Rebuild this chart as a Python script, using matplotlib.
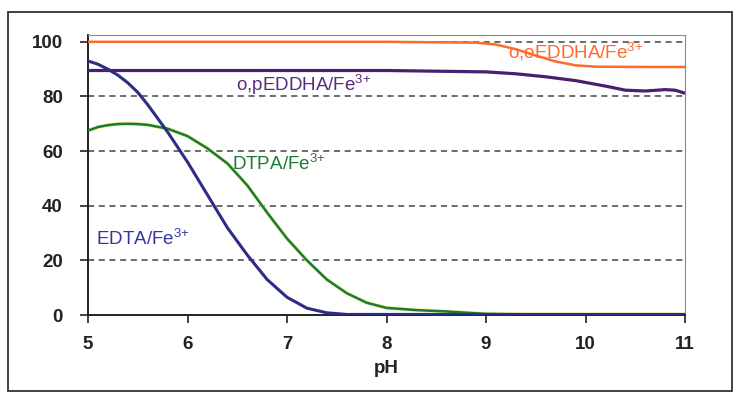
import matplotlib.pyplot as plt
from matplotlib.patches import Rectangle

# data (% chelated vs pH)
ph_oo = [5, 8.0, 8.9, 9.1, 9.3, 9.5, 9.7, 9.9, 10.1, 10.6, 11]
oo_eddha = [100, 100, 99.7, 99.0, 97.3, 95.0, 92.8, 91.4, 90.9, 90.8, 90.8]

ph_op = [5, 8.0, 9.0, 9.3, 9.6, 9.9, 10.2, 10.4, 10.6, 10.8, 10.9, 11]
op_eddha = [89.5, 89.5, 89.0, 88.3, 87.2, 85.8, 83.8, 82.3, 82.0, 82.5, 82.3, 81.2]

ph_edta = [5, 5.1, 5.2, 5.3, 5.4, 5.5, 5.6, 5.8, 6.0, 6.2, 6.4, 6.6, 6.8, 7.0, 7.2, 7.4, 7.6, 11]
edta = [93, 91.8, 90, 87.8, 85, 81.5, 77, 67, 56, 44, 32, 22, 13, 6.5, 2.5, 0.8, 0.2, 0.2]

ph_dtpa = [5, 5.1, 5.2, 5.3, 5.4, 5.5, 5.6, 5.8, 6.0, 6.2, 6.4, 6.6, 6.8, 7.0, 7.2, 7.4, 7.6, 7.8, 8.0, 8.3, 8.6, 9.0, 9.5, 11]
dtpa = [67.5, 68.8, 69.5, 69.9, 70, 69.9, 69.6, 68.2, 65.5, 61, 55.5, 47.5, 37.5, 28, 20, 13, 8, 4.5, 2.6, 1.8, 1.3, 0.4, 0.2, 0.2]

labels = ["o,oEDDHA/Fe$^{3{+}}$", "o,pEDDHA/Fe$^{3{+}}$", "DTPA/Fe$^{3{+}}$", "EDTA/Fe$^{3{+}}$"]

plt.rcParams['font.family'] = ['Liberation Sans', 'DejaVu Sans']
plt.rcParams['mathtext.fontset'] = 'custom'
plt.rcParams['mathtext.rm'] = 'Liberation Sans'
plt.rcParams['mathtext.it'] = 'Liberation Sans'

fig = plt.figure(figsize=(7.35, 3.98), dpi=100)
fig.patches.append(Rectangle((8/735, 1 - 391/398), 724/735, 379/398, transform=fig.transFigure,
                             fill=False, edgecolor='#333333', linewidth=1.3))
ax = fig.add_axes([88/735, 1 - 315/398, 597/735, 280/398])

for y in [20, 40, 60, 80, 100]:
    ax.axhline(y, color='#444444', linestyle=(0, (4, 3)), linewidth=1.1, zorder=1)

ax.plot(ph_oo, oo_eddha, color='#ff6a2a', linewidth=1.8, zorder=3)
ax.plot(ph_op, op_eddha, color='#4a1f70', linewidth=2.3, zorder=3)
ax.plot(ph_dtpa, dtpa, color='#eef59a', linewidth=2.8, zorder=2)
ax.plot(ph_dtpa, dtpa, color='#1b7a35', linewidth=1.8, zorder=3)
ax.plot(ph_edta, edta, color='#2d2d85', linewidth=2.2, zorder=4)

ax.text(9.22, 94, labels[0], color='#ff6a2a', fontsize=13.5)
ax.text(6.49, 82, labels[1], color='#5a2a80', fontsize=13.5)
ax.text(6.45, 53, labels[2], color='#1b7a35', fontsize=13.5)
ax.text(5.08, 25.5, labels[3], color='#3535a0', fontsize=13.5)

ax.set_xlim(5, 11)
ax.set_ylim(0, 102.5)
ax.set_xticks([5, 6, 7, 8, 9, 10, 11])
ax.set_yticks([0, 20, 40, 60, 80, 100])
ax.tick_params(axis='both', direction='out', length=6, width=1.2, labelsize=13.5, colors='#222222')
ax.tick_params(axis='y', pad=12)
ax.tick_params(axis='x', pad=9)
for t in ax.get_xticklabels() + ax.get_yticklabels():
    t.set_fontweight('bold')
ax.set_xlabel('pH', fontsize=13.5, fontweight='bold', color='#222222', labelpad=5)

ax.spines['left'].set_color('#222222')
ax.spines['left'].set_linewidth(1.4)
ax.spines['bottom'].set_color('#222222')
ax.spines['bottom'].set_linewidth(1.4)
ax.spines['top'].set_color('#888888')
ax.spines['right'].set_color('#888888')

fig.savefig('out.png', dpi=100)
